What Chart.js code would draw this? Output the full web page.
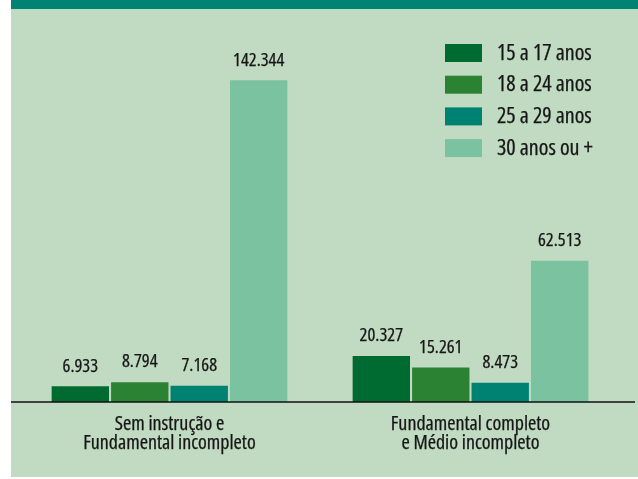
<!DOCTYPE html>
<html>
<head>
<meta charset="utf-8">
<script src="https://cdn.jsdelivr.net/npm/chart.js@4.4.1/dist/chart.umd.min.js"></script>
<style>
  html, body { margin: 0; padding: 0; background: #ffffff; }
  #wrap { width: 638px; height: 479px; position: relative; }
</style>
</head>
<body>
<div id="wrap"><canvas id="c" width="638" height="479"></canvas></div>
<script>
// ---- data ----
const categories = [
  ["Sem instrução e", "Fundamental incompleto"],
  ["Fundamental completo", "e Médio incompleto"]
];
const seriesNames = ["15 a 17 anos", "18 a 24 anos", "25 a 29 anos", "30 anos ou +"];
const age15to17 = [6933, 20327];
const age18to24 = [8794, 15261];
const age25to29 = [7168, 8473];
const age30plus = [142344, 62513];
const seriesColors = ["#006b30", "#2b8233", "#008272", "#7bc2a1"];

const FONT = "'Open Sans', 'DejaVu Sans Condensed', sans-serif";
const WEIGHT = "condensed";
const TEXT = "#161616";
const STROKE_W = 0.25;

function fmt(v) {
  return String(v).replace(/\B(?=(\d{3})+(?!\d))/g, ".");
}

function drawText(ctx, s, x, y) {
  ctx.strokeText(s, x, y);
  ctx.fillText(s, x, y);
}

const backgroundPlugin = {
  id: "panelBg",
  beforeDraw(chart) {
    const ctx = chart.ctx;
    ctx.save();
    ctx.fillStyle = "#ffffff";
    ctx.fillRect(0, 0, chart.width, chart.height);
    ctx.fillStyle = "#c1dbc2";
    ctx.fillRect(11, 9, chart.width - 11, 468);
    ctx.fillStyle = "#008373";
    ctx.fillRect(11, 0, chart.width - 11, 9);
    ctx.restore();
  }
};

const overlayPlugin = {
  id: "overlay",
  afterDatasetsDraw(chart) {
    const ctx = chart.ctx;
    ctx.save();
    // baseline
    const y0 = chart.scales.y.getPixelForValue(0);
    ctx.strokeStyle = "#111111";
    ctx.lineWidth = 1.5;
    ctx.beginPath();
    ctx.moveTo(11, y0);
    ctx.lineTo(635, y0);
    ctx.stroke();
    // value labels
    ctx.fillStyle = TEXT;
    ctx.strokeStyle = TEXT;
    ctx.lineWidth = STROKE_W;
    ctx.lineJoin = "round";
    ctx.font = WEIGHT + " 18.5px " + FONT;
    ctx.textAlign = "center";
    ctx.textBaseline = "middle";
    chart.data.datasets.forEach((ds, i) => {
      const meta = chart.getDatasetMeta(i);
      meta.data.forEach((bar, j) => {
        drawText(ctx, fmt(ds.data[j]), bar.x, bar.y - 20);
      });
    });
    // legend
    ctx.textAlign = "left";
    ctx.font = WEIGHT + " 22px " + FONT;
    chart.data.datasets.forEach((ds, i) => {
      const top = 44 + i * 31.7;
      ctx.fillStyle = ds.backgroundColor;
      ctx.fillRect(445, top, 37, 18);
      ctx.fillStyle = TEXT;
      drawText(ctx, ds.label, 497, top + 9.5);
    });
    ctx.restore();
  }
};

const seriesData = [age15to17, age18to24, age25to29, age30plus];

new Chart(document.getElementById("c"), {
  type: "bar",
  data: {
    labels: categories,
    datasets: seriesNames.map((name, i) => ({
      label: name,
      data: seriesData[i],
      backgroundColor: seriesColors[i],
      borderWidth: 0,
      categoryPercentage: 0.79,
      barPercentage: 0.965
    }))
  },
  options: {
    responsive: false,
    animation: false,
    devicePixelRatio: 1,
    layout: { padding: { left: 19, right: 17, top: 63, bottom: 13 } },
    plugins: {
      legend: { display: false },
      tooltip: { enabled: false },
      title: { display: false }
    },
    scales: {
      x: {
        grid: { display: false, drawTicks: false },
        border: { display: false },
        ticks: {
          color: TEXT,
          textStrokeColor: TEXT,
          textStrokeWidth: STROKE_W,
          padding: 13,
          font: { family: FONT, size: 20, weight: WEIGHT, lineHeight: "19px" },
          maxRotation: 0,
          autoSkip: false
        }
      },
      y: {
        display: false,
        min: 0,
        max: 150000
      }
    }
  },
  plugins: [backgroundPlugin, overlayPlugin]
});
</script>
</body>
</html>
